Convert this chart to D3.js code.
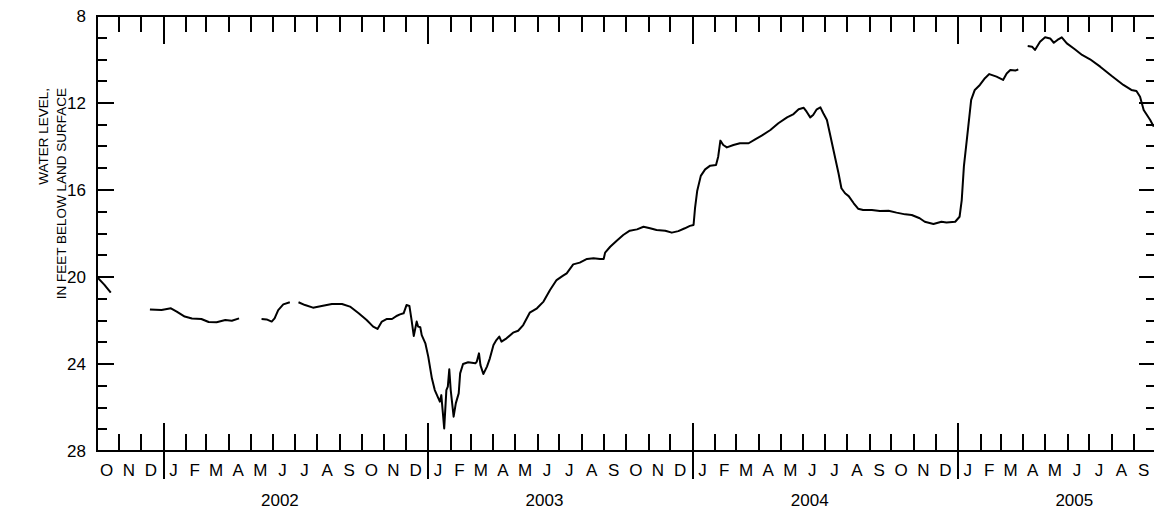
<!DOCTYPE html>
<html><head><meta charset="utf-8">
<script src="https://cdn.jsdelivr.net/npm/d3@7"></script>
<style>
body{margin:0;background:#fff}
svg{display:block}
text{font-family:"Liberation Sans",Arial,Helvetica,sans-serif;fill:#000}
</style>
</head><body>
<svg id="chart" width="1154" height="510"></svg>
<script>
// ---- data ----
const obsDates = [
"2001-10-01","2001-10-11","2001-10-20","2001-11-15",
"2001-12-13","2001-12-29","2002-01-11","2002-01-19","2002-01-30","2002-02-09","2002-02-22","2002-03-04","2002-03-15","2002-03-27","2002-04-05","2002-04-15","2002-05-01",
"2002-05-16","2002-05-23","2002-05-30","2002-06-03","2002-06-08","2002-06-15","2002-06-24","2002-06-30",
"2002-07-06","2002-07-15","2002-07-26","2002-08-07","2002-08-21","2002-09-04","2002-09-15","2002-09-27","2002-10-08","2002-10-17","2002-10-23","2002-10-29",
"2002-11-05","2002-11-12","2002-11-19","2002-11-23","2002-11-28","2002-12-02","2002-12-06","2002-12-09","2002-12-12","2002-12-16","2002-12-18","2002-12-21","2002-12-23","2002-12-28",
"2003-01-01","2003-01-06","2003-01-10","2003-01-15","2003-01-17","2003-01-19","2003-01-21","2003-01-23","2003-01-26","2003-01-28","2003-01-30",
"2003-02-01","2003-02-05","2003-02-08","2003-02-12","2003-02-14","2003-02-18","2003-02-25",
"2003-03-07","2003-03-09","2003-03-12","2003-03-14","2003-03-18","2003-03-23","2003-03-27",
"2003-04-01","2003-04-05","2003-04-09","2003-04-12","2003-04-19","2003-04-28",
"2003-05-05","2003-05-12","2003-05-21","2003-05-31","2003-06-09","2003-06-18","2003-06-27",
"2003-07-06","2003-07-11","2003-07-20","2003-07-29","2003-08-08","2003-08-17","2003-08-26","2003-08-31",
"2003-09-02","2003-09-09","2003-09-18","2003-09-27","2003-10-06","2003-10-16","2003-10-25",
"2003-11-03","2003-11-12","2003-11-24","2003-12-03","2003-12-12","2003-12-21","2003-12-28",
"2004-01-02","2004-01-04","2004-01-07","2004-01-12","2004-01-18","2004-01-25",
"2004-02-02","2004-02-05","2004-02-08","2004-02-12","2004-02-17","2004-02-26",
"2004-03-06","2004-03-18","2004-03-27","2004-04-05","2004-04-17","2004-04-28",
"2004-05-10","2004-05-19","2004-05-26","2004-06-02","2004-06-06","2004-06-11","2004-06-15","2004-06-20","2004-06-25","2004-06-29",
"2004-07-04","2004-07-08","2004-07-13","2004-07-20","2004-07-24","2004-07-29",
"2004-08-03","2004-08-10","2004-08-16","2004-08-23","2004-09-04","2004-09-15","2004-09-27",
"2004-10-08","2004-10-20","2004-10-29","2004-11-09","2004-11-16","2004-11-28",
"2004-12-09","2004-12-16","2004-12-28",
"2005-01-03","2005-01-06","2005-01-09","2005-01-13","2005-01-15","2005-01-19","2005-01-24","2005-01-31",
"2005-02-07","2005-02-13","2005-02-23","2005-03-04","2005-03-09","2005-03-14","2005-03-21","2005-03-25","2005-03-31",
"2005-04-07","2005-04-13","2005-04-17","2005-04-24","2005-05-01","2005-05-08","2005-05-13","2005-05-18","2005-05-24","2005-05-31",
"2005-06-11","2005-06-21","2005-07-02","2005-07-16","2005-08-01","2005-08-17","2005-08-28",
"2005-09-04","2005-09-09","2005-09-14","2005-09-23","2005-09-28"
];
const waterLevel = [
20.00,20.35,20.72,null,
21.49,21.52,21.44,21.59,21.82,21.91,21.93,22.07,22.08,21.98,22.01,21.90,null,
21.93,21.95,22.05,21.90,21.52,21.26,21.16,null,
21.16,21.29,21.41,21.33,21.24,21.24,21.36,21.67,21.98,22.28,22.39,22.05,
21.93,21.93,21.78,21.72,21.67,21.29,21.33,21.98,22.71,22.05,22.28,22.31,22.67,23.05,
23.66,24.66,25.20,25.58,25.73,25.43,26.19,26.96,25.20,25.04,24.24,
25.20,26.42,25.81,25.35,24.43,24.00,23.92,
23.97,23.89,23.51,24.05,24.46,24.12,23.74,
23.13,22.90,22.74,22.97,22.82,22.56,
22.47,22.21,21.64,21.44,21.13,20.60,20.14,
19.94,19.83,19.42,19.34,19.17,19.14,19.17,19.17,
18.88,18.61,18.33,18.07,17.87,17.81,17.69,
17.76,17.84,17.87,17.96,17.89,17.76,17.65,
17.61,16.85,16.05,15.35,15.05,14.88,
14.85,14.47,13.73,13.93,14.04,13.93,
13.85,13.85,13.67,13.50,13.24,12.93,
12.66,12.51,12.29,12.22,12.40,12.66,12.55,12.29,12.20,12.47,
12.78,13.39,14.16,15.23,15.92,16.15,
16.28,16.61,16.86,16.92,16.92,16.97,16.95,
17.04,17.12,17.15,17.30,17.46,17.56,
17.46,17.49,17.46,
17.23,16.46,14.90,13.70,13.09,11.86,11.40,11.17,
10.86,10.67,10.79,10.94,10.64,10.48,10.51,10.45,null,
9.38,9.41,9.56,9.18,8.98,9.03,9.23,9.10,8.98,9.26,
9.53,9.79,9.99,10.33,10.76,11.17,11.40,
11.45,11.71,12.32,12.78,13.09
];
const monthLetters = ["J","F","M","A","M","J","J","A","S","O","N","D"];
const yearLabels = ["2002","2003","2004","2005"];
const yLabelValues = [8,12,16,20,24,28];
const yTitleLines = ["WATER LEVEL,","IN FEET BELOW LAND SURFACE"];
const startDate = "2001-10-01", endDate = "2005-10-01";
const yMin = 8, yMax = 28;

// ---- drawing ----
(function () {
const parse = d3.timeParse("%Y-%m-%d");
const svg = d3.select("#chart");
const pL = 97, pR = 1156, pT = 16, pB = 451;

const x = d3.scaleTime().domain([parse(startDate), parse(endDate)]).range([pL, pR]);
const y = d3.scaleLinear().domain([yMin, yMax]).range([pT, pB]);

const data = obsDates.map((d, i) => ({date: parse(d), v: waterLevel[i]}));

// frame
svg.append("rect").attr("x", pL).attr("y", pT).attr("width", pR - pL).attr("height", pB - pT)
  .attr("fill", "none").attr("stroke", "#000").attr("stroke-width", 2);

// x ticks
const months = d3.timeMonth.range(parse(startDate), d3.timeDay.offset(parse(endDate), 1));
const tg = svg.append("g").attr("stroke", "#000").attr("stroke-width", 2);
months.forEach(m => {
  const px = Math.round(x(m));
  const isYear = m.getMonth() === 0;
  if (px <= pL + 1 || px >= pR - 1) return;
  if (isYear) {
    tg.append("line").attr("x1", px).attr("x2", px).attr("y1", pT).attr("y2", pT + 28);
    tg.append("line").attr("x1", px).attr("x2", px).attr("y1", pB - 28).attr("y2", pB + 28);
  } else {
    tg.append("line").attr("x1", px).attr("x2", px).attr("y1", pT).attr("y2", pT + 16);
    tg.append("line").attr("x1", px).attr("x2", px).attr("y1", pB - 17).attr("y2", pB);
  }
});

// month letters
const monthStarts = d3.timeMonth.range(parse(startDate), parse(endDate));
monthStarts.forEach(m => {
  const next = d3.timeMonth.offset(m, 1);
  const cx = (x(m) + x(next)) / 2 - 1.5;
  svg.append("text").attr("x", cx).attr("y", 476).attr("text-anchor", "middle")
    .attr("font-size", 17).text(monthLetters[m.getMonth()]);
});

// year labels
yearLabels.forEach(yr => {
  const cx = x(parse(yr + "-07-01")) - 15;
  svg.append("text").attr("x", cx).attr("y", 506).attr("text-anchor", "middle")
    .attr("font-size", 17).text(yr);
});

// y ticks
d3.range(yMin, yMax + 1, 1).forEach(v => {
  if (v === yMin || v === yMax) return;
  const py = Math.round(y(v));
  const len = (v % 4 === 0) ? 17 : 10;
  tg.append("line").attr("x1", pL).attr("x2", pL + len).attr("y1", py).attr("y2", py);
  tg.append("line").attr("x1", pR - len).attr("x2", pR).attr("y1", py).attr("y2", py);
});
yLabelValues.forEach(v => {
  svg.append("text").attr("x", 86).attr("y", y(v) + 6).attr("text-anchor", "end")
    .attr("font-size", 17).text(v);
});

// y title (top-aligned lines)
const titleTop = 88;
yTitleLines.forEach((t, i) => {
  const bx = 48 + i * 18;
  svg.append("text").attr("transform", `translate(${bx},${titleTop}) rotate(-90)`)
    .attr("text-anchor", "end").attr("font-size", 13.5).text(t);
});

// series
const line = d3.line().defined(d => d.v != null).x(d => x(d.date)).y(d => y(d.v));
svg.append("path").datum(data).attr("d", line).attr("fill", "none")
  .attr("stroke", "#000").attr("stroke-width", 2).attr("stroke-linejoin", "round");
})();
</script>
</body></html>
